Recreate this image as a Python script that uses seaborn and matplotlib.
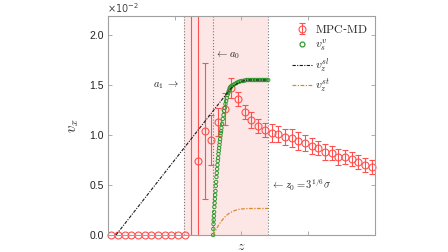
import numpy as np
import seaborn as sns
import matplotlib.pyplot as plt
from matplotlib.lines import Line2D

# MPC-MD velocity profile (values in units of 1e-2)
red_z = [0.05, 0.15, 0.25, 0.35, 0.45, 0.55, 0.65, 0.75, 0.85, 0.95, 1.05, 1.15,
         1.25, 1.35, 1.45, 1.55, 1.65, 1.75, 1.85, 1.95, 2.05, 2.15, 2.25, 2.35,
         2.45, 2.55, 2.65, 2.75, 2.85, 2.95, 3.05, 3.15, 3.25, 3.35, 3.45, 3.55,
         3.65, 3.75, 3.85, 3.95]
red_v = [0.0] * 12 + [2.6, 0.74, 1.04, 0.95, 1.13, 1.26, 1.47, 1.36, 1.23, 1.15, 1.09, 1.05,
                      1.02, 1.01, 0.98, 0.97, 0.94, 0.92, 0.89, 0.87, 0.83, 0.82, 0.78, 0.78,
                      0.76, 0.73, 0.70, 0.68]
red_err = [np.nan] * 12 + [3.0, 2.0, 0.68, 0.25, 0.14, 0.16, 0.10, 0.07, 0.07, 0.08, 0.07, 0.07,
                           0.09, 0.08, 0.08, 0.09, 0.09, 0.08, 0.08, 0.07, 0.08, 0.07, 0.08, 0.07,
                           0.07, 0.07, 0.07, 0.07]

# v_s^v (green circles)
vs_z = [1.575, 1.578, 1.581, 1.584, 1.587, 1.590, 1.594, 1.598, 1.602, 1.606, 1.610,
        1.615, 1.620, 1.625, 1.630, 1.635, 1.640, 1.645, 1.650, 1.655, 1.660, 1.665,
        1.670, 1.675, 1.680, 1.685, 1.690, 1.695, 1.700, 1.71, 1.72, 1.73, 1.74, 1.75,
        1.76, 1.77, 1.78, 1.79, 1.80, 1.81, 1.82, 1.83, 1.84, 1.85, 1.875, 1.90, 1.925,
        1.95, 1.975, 2.0, 2.025, 2.05, 2.075, 2.1, 2.125, 2.15, 2.175, 2.2, 2.225,
        2.25, 2.275, 2.3, 2.325, 2.35, 2.375, 2.4]
vs_v = [0.00, 0.06, 0.11, 0.15, 0.19, 0.23, 0.28, 0.32, 0.36, 0.40, 0.44,
        0.49, 0.53, 0.58, 0.62, 0.66, 0.70, 0.74, 0.77, 0.81, 0.84, 0.87,
        0.90, 0.93, 0.96, 0.99, 1.02, 1.04, 1.07, 1.11, 1.16, 1.20, 1.24, 1.27,
        1.31, 1.34, 1.37, 1.40, 1.42, 1.44, 1.45, 1.47, 1.48, 1.49, 1.50, 1.51, 1.52,
        1.53, 1.535, 1.54, 1.54, 1.545, 1.55, 1.55, 1.55, 1.55, 1.55, 1.55, 1.55,
        1.55, 1.55, 1.55, 1.55, 1.55, 1.55, 1.55]

# v_z^{sl} (black dash-dot)
sl_z = [0.12, 1.75, 1.80, 1.85, 1.90, 1.95, 2.0, 2.05, 2.1, 2.4]
sl_v = [0.0, 1.39, 1.43, 1.47, 1.50, 1.52, 1.535, 1.545, 1.55, 1.55]

# v_z^{st} (orange dash-dot)
st_z = [1.575, 1.60, 1.65, 1.70, 1.75, 1.80, 1.85, 1.90, 1.95, 2.0, 2.1, 2.4]
st_v = [0.0, 0.03, 0.09, 0.14, 0.18, 0.21, 0.23, 0.245, 0.255, 0.26, 0.265, 0.265]

a1, a0, z0 = 1.14, 1.575, 2.40

sns.set_theme(style="ticks")
plt.rcParams['font.family'] = ['Liberation Sans', 'DejaVu Sans']
plt.rcParams['mathtext.fontset'] = 'cm'

red = '#ff5050'
green = '#2e9a2e'
orange = '#d98a2e'
edge = '#a0a0a0'
dashdot = (0, (3, 1.2, 1, 1.2))

fig = plt.figure(figsize=(4.48, 2.52), dpi=100)
ax = fig.add_axes([0.241, 0.0675, 0.596, 0.869])

ax.axvspan(a1, z0, color='#fde6e6', lw=0, zorder=0)
for xv in (a1, a0, z0):
    ax.axvline(xv, color='#777777', ls=':', lw=0.8, zorder=1)

eb = ax.errorbar(red_z, red_v, yerr=red_err, fmt='o', color=red, mfc='none',
                 ms=5, mew=0.8, elinewidth=0.8, capsize=2, capthick=0.8, zorder=2)
eb[0].set_clip_on(False)
eb[0].set_markevery([i for i, v in enumerate(red_v) if v <= 2.2])

sns.scatterplot(x=vs_z, y=vs_v, ax=ax, marker='o', s=6, color=green,
                facecolor='none', edgecolor=green, linewidth=0.7,
                clip_on=False, zorder=3, legend=False)
sns.lineplot(x=sl_z, y=sl_v, ax=ax, color='k', lw=0.8, zorder=4, linestyle=dashdot)
sns.lineplot(x=st_z, y=st_v, ax=ax, color=orange, lw=0.9, zorder=4, linestyle=dashdot)

ax.set_xlim(0, 4)
ax.set_ylim(0, 2.19)
ax.set_xticks([0, 1, 2, 3, 4])
ax.set_xticklabels([])
ax.set_yticks([0, 0.5, 1.0, 1.5, 2.0])
ax.set_yticklabels(['0.0', '0.5', '1.0', '1.5', '2.0'])
ax.tick_params(direction='in', length=3, width=0.6, color=edge, labelsize=7.5,
               top=True, right=True, labelcolor='#222222', pad=3)
for sp in ax.spines.values():
    sp.set_color(edge)
    sp.set_linewidth(0.8)

ax.set_xlabel(r'$z$', fontsize=10, labelpad=0)
ax.set_ylabel(r'$v_x$', fontsize=10.5, labelpad=6)
ax.text(-0.005, 1.004, r'$\times10^{-2}$', transform=ax.transAxes, fontsize=7,
        color='#444444', ha='left', va='bottom', math_fontfamily='dejavusans')

ax.text(1.07, 1.5, r'$a_1\ \rightarrow$', fontsize=7.5, ha='right', va='center')
ax.text(1.60, 1.8, r'$\leftarrow a_0$', fontsize=7.5, ha='left', va='center')
ax.text(2.44, 0.5, r'$\leftarrow z_0 = 3^{1/6}\sigma$', fontsize=7.5, ha='left', va='center')

handles = [
    eb,
    Line2D([], [], marker='o', ls='none', mfc='none', mec=green, ms=3.5, mew=0.9),
    Line2D([], [], color='k', lw=0.8, ls=dashdot),
    Line2D([], [], color=orange, lw=0.9, ls=dashdot),
]
labels = [r'$\mathrm{MPC}$-$\mathrm{MD}$', r'$v_s^v$', r'$v_z^{sl}$', r'$v_z^{st}$']
ax.legend(handles, labels, loc='upper right', frameon=False, fontsize=8.5,
          handlelength=1.7, handletextpad=0.25, labelspacing=0.2,
          borderaxespad=0.25)

fig.savefig('out.png', dpi=100)
